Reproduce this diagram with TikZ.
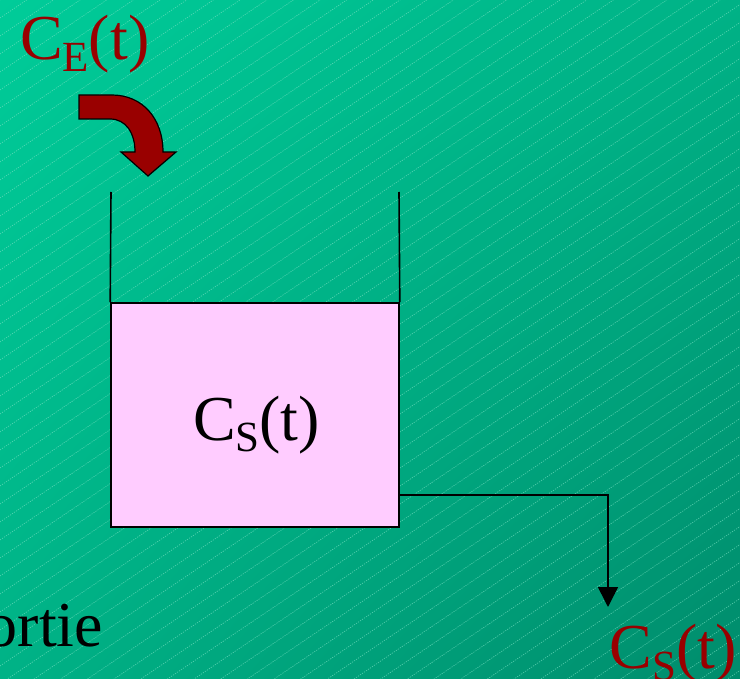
\documentclass[tikz,border=0pt]{standalone}
\usepackage{fontspec}
\setmainfont{Liberation Serif}
\usetikzlibrary{arrows.meta,shadings}
\definecolor{bgtl}{RGB}{0,204,153}
\definecolor{bgmid}{RGB}{0,178,134}
\definecolor{bgbr}{RGB}{0,140,108}
\definecolor{hatch}{RGB}{120,225,195}
\definecolor{dred}{RGB}{153,0,0}
\definecolor{pinkfill}{RGB}{255,204,255}
\newcommand{\bigtxt}{\fontsize{64}{70}\selectfont}
\newcommand{\withsub}[2]{#1\raisebox{-12pt}{\fontsize{43}{43}\selectfont #2}}
\tikzset{
  lbl/.style={inner sep=0pt, outer sep=0pt, font=\bigtxt},
  wall/.style={draw=black, line width=1.6pt},
  tankbox/.style={draw=black, line width=1.6pt, fill=pinkfill, minimum width=288pt, minimum height=224pt, inner sep=0pt},
  flow/.style={draw=black, line width=1.6pt, -{Triangle[width=20pt,length=20pt]}},
  bentarrow/.style={fill=dred, draw=black, line width=1.2pt, line join=miter},
  hatchline/.style={draw=hatch, line width=0.6pt, dash pattern=on 1.2pt off 1.2pt, opacity=0.7}
}
\begin{document}
\begin{tikzpicture}[x=1pt,y=-1pt]
\useasboundingbox (0,0) rectangle (740,679);
\clip (0,0) rectangle (740,679);
% background
\shade[upper left=bgtl, upper right=bgmid, lower left=bgmid, lower right=bgbr] (0,0) rectangle (740,679);
\foreach \c in {0,18,...,1206} {
  \draw[hatchline] (0,\c) -- (1800,{\c-1215});
}
% inflow bent arrow
\path[bentarrow] (79,95) -- (112,95) .. controls (142,95) and (163,118) .. (163,152)
  -- (176,152) -- (148,176) -- (121,152) -- (135,152)
  .. controls (135,133) and (126,119) .. (110,119) -- (79,119) -- cycle;
% tank
\node[tankbox] (tank) at (255,415) {};
\coordinate (lwtop) at (111,192);
\coordinate (rwtop) at (399,192);
\draw[wall] (lwtop) -- (tank.north west);
\draw[wall] (rwtop) -- (tank.north east);
% outlet
\coordinate (outlet) at (399,495);
\coordinate (corner) at (608,495);
\coordinate (tip) at (608,607);
\draw[flow] (outlet) -- (corner) -- (tip);
% labels
\node[lbl, text=dred, anchor=base west] (ce) at (20,60) {\withsub{C}{E}(t)};
\node[lbl, text=black, anchor=base west] (cs) at (193,440) {\withsub{C}{S}(t)};
\node[lbl, text=dred, anchor=base east] (csout) at (737,668) {\withsub{C}{S}(t)};
\node[lbl, text=black, anchor=base east] (sortie) at (103,646) {ortie};
\end{tikzpicture}
\end{document}
